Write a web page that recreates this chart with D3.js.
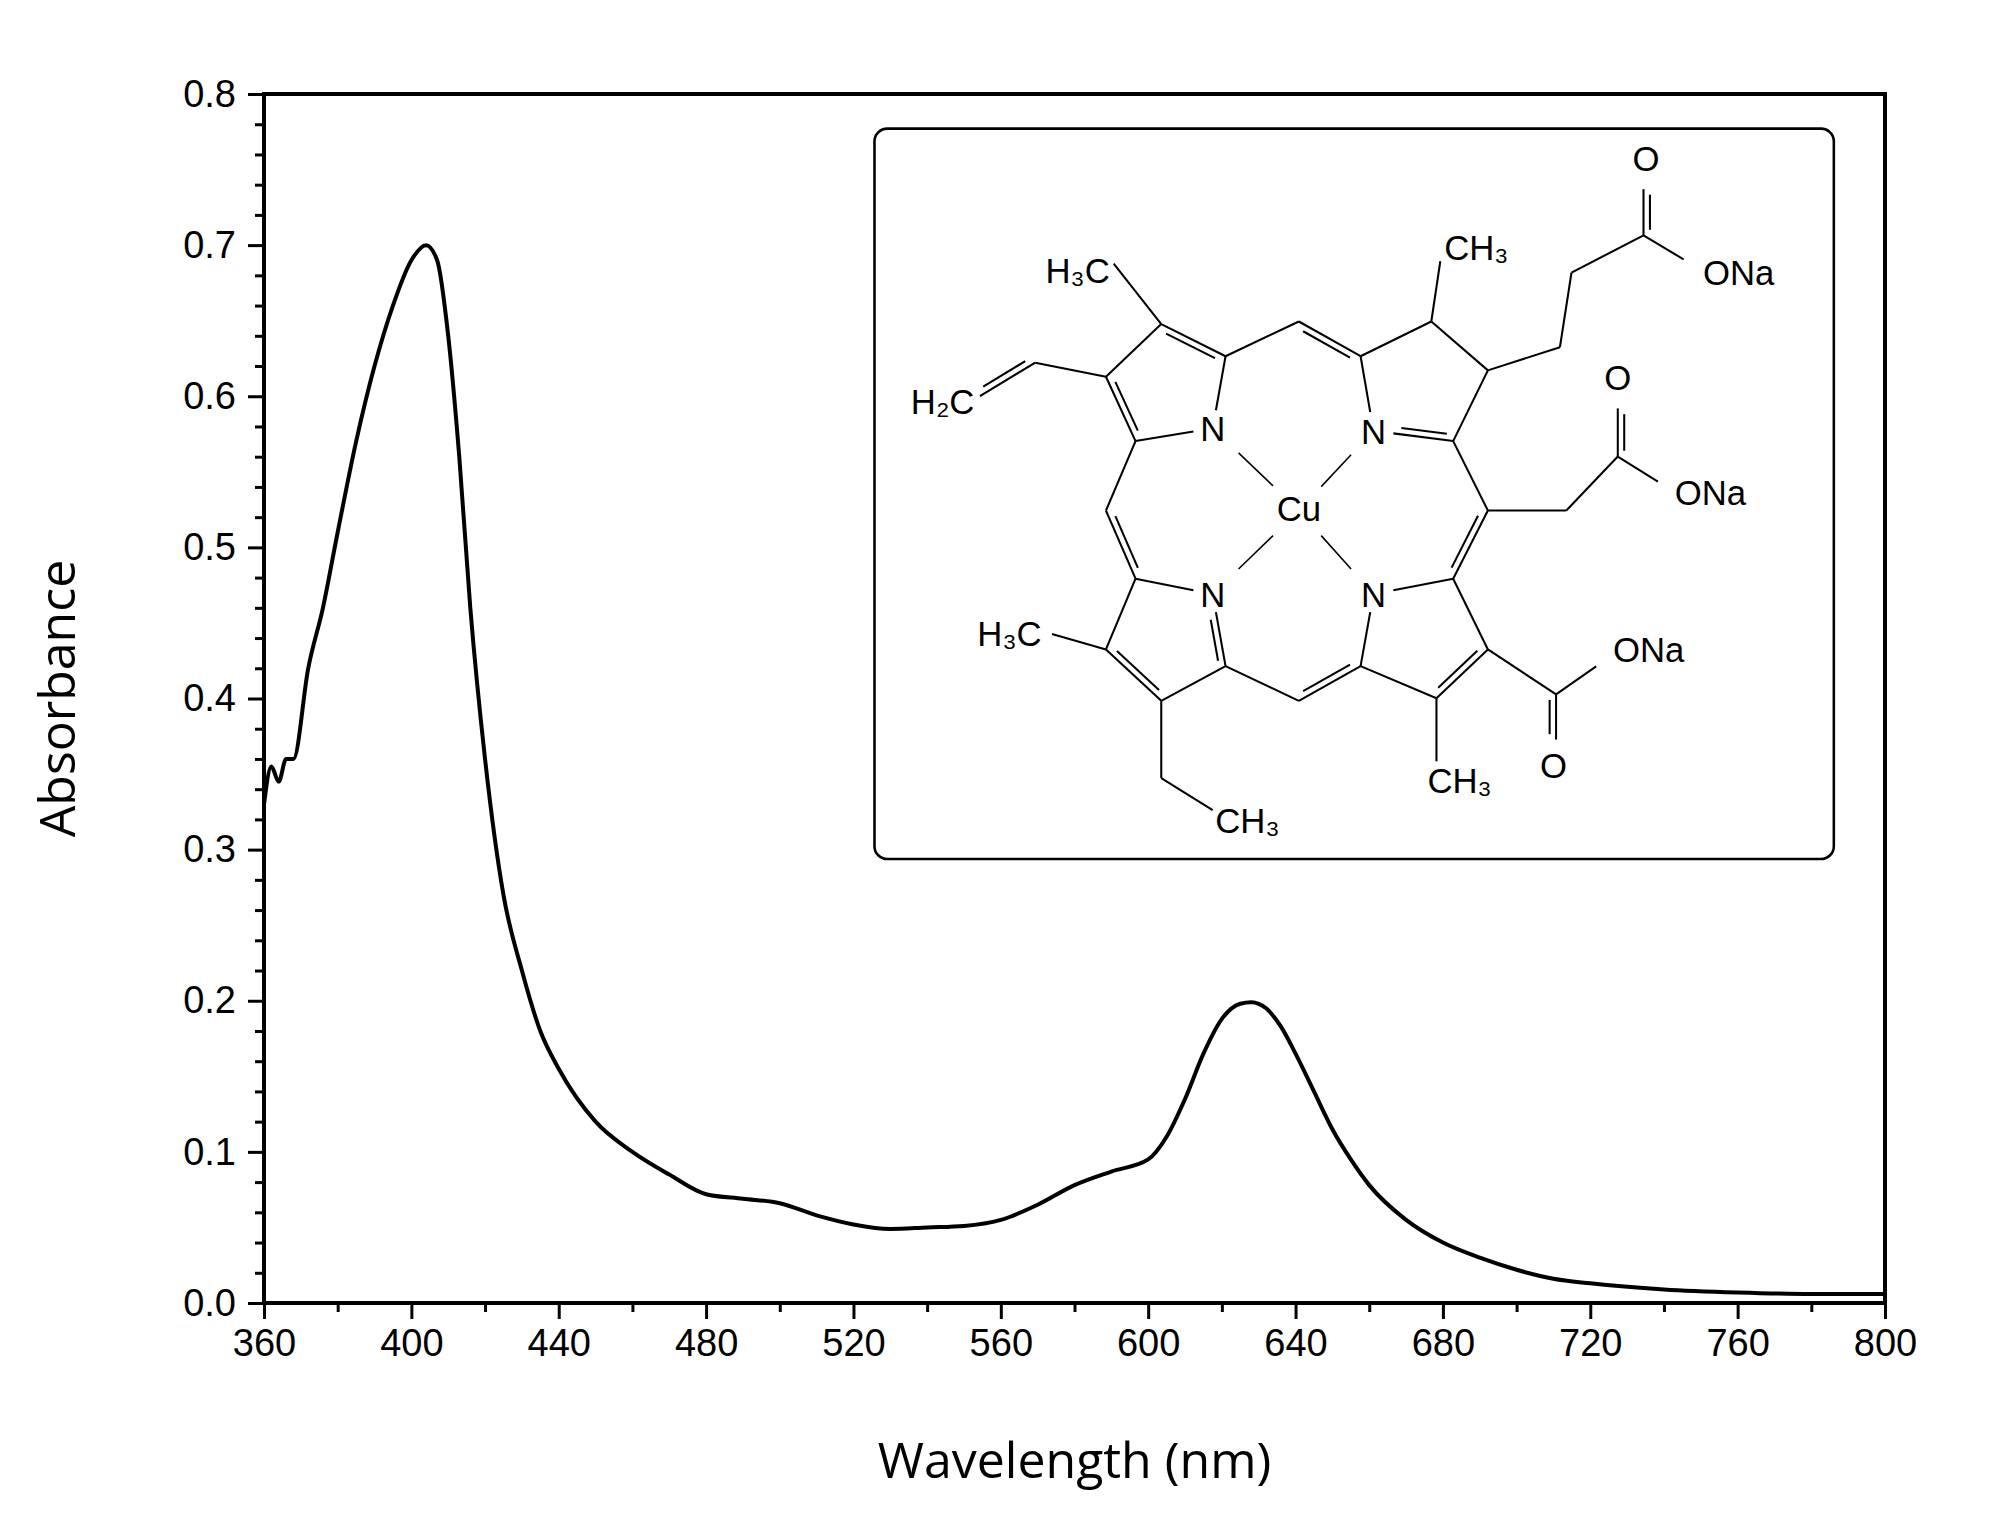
<!DOCTYPE html>
<html><head><meta charset="utf-8">
<script src="https://cdn.jsdelivr.net/npm/d3@7"></script>
<style>body{margin:0;background:#fff}</style>
</head><body>
<div id="chart"></div>
<script>
const wavelength = [360,362,364,366,368,372,376,380,385,390,395,400,404,407,410,413,416,420,425,430,435,440,450,460,470,480,490,500,510,520,530,540,550,560,570,580,590,600,605,610,615,620,625,628,632,636,640,645,650,655,660,670,680,690,700,710,720,740,760,780,800];
const absorbance = [0.33,0.355,0.345,0.36,0.36,0.42,0.46,0.51,0.57,0.62,0.66,0.69,0.70,0.69,0.64,0.56,0.46,0.36,0.27,0.22,0.18,0.155,0.12,0.10,0.085,0.072,0.069,0.066,0.058,0.052,0.049,0.050,0.051,0.055,0.065,0.078,0.087,0.095,0.11,0.135,0.165,0.188,0.198,0.199,0.195,0.183,0.165,0.14,0.115,0.095,0.078,0.055,0.040,0.030,0.022,0.016,0.013,0.009,0.007,0.006,0.006];
const xTicks = d3.range(360, 801, 40);
const yTicks = d3.range(0, 0.81, 0.1);

const width = 2015, height = 1525;
const margin = {top: 94, right: 130, bottom: 222, left: 264};
const iw = width - margin.left - margin.right, ih = height - margin.top - margin.bottom;

const svg = d3.select("#chart").append("svg").attr("width", width).attr("height", height)
  .style("font-family", "'Liberation Sans', Arial, sans-serif");
const g = svg.append("g").attr("transform", `translate(${margin.left},${margin.top})`);

const x = d3.scaleLinear().domain([360, 800]).range([0, iw]);
const y = d3.scaleLinear().domain([0, 0.8]).range([ih, 0]);

// minor ticks
g.append("g").attr("transform", `translate(0,${ih})`)
  .call(d3.axisBottom(x).tickValues(d3.range(380, 800, 40)).tickSize(9).tickFormat(""))
  .call(a => a.select(".domain").remove()).selectAll("line").attr("stroke-width", 3);
g.append("g")
  .call(d3.axisLeft(y).tickValues(d3.range(0.02, 0.8, 0.02).filter(v => Math.abs(v * 10 - Math.round(v * 10)) > 0.01)).tickSize(9).tickFormat(""))
  .call(a => a.select(".domain").remove()).selectAll("line").attr("stroke-width", 3);

const xa = g.append("g").attr("transform", `translate(0,${ih})`)
  .call(d3.axisBottom(x).tickValues(xTicks).tickSize(16).tickPadding(10).tickFormat(d3.format("d")));
xa.selectAll("text").style("font-size", "38px").attr("fill", "#000");
xa.selectAll("line").attr("stroke-width", 3);
xa.select(".domain").remove();

const ya = g.append("g")
  .call(d3.axisLeft(y).tickValues(yTicks).tickSize(16).tickPadding(12).tickFormat(d3.format(".1f")));
ya.selectAll("text").style("font-size", "38px").attr("fill", "#000");
ya.selectAll("line").attr("stroke-width", 3);
ya.select(".domain").remove();

g.append("rect").attr("width", iw).attr("height", ih).attr("fill", "none").attr("stroke", "#000").attr("stroke-width", 4);

g.append("path").datum(wavelength.map((w, i) => [w, absorbance[i]]))
  .attr("fill", "none").attr("stroke", "#000").attr("stroke-width", 4).attr("stroke-linejoin", "round")
  .attr("d", d3.line().x(d => x(d[0])).y(d => y(d[1])).curve(d3.curveMonotoneX));

svg.append("text").attr("x", margin.left + iw / 2).attr("y", 1478).attr("text-anchor", "middle")
  .style("font-family", "'Open Sans', sans-serif").style("font-size", "50px").text("Wavelength (nm)");
svg.append("text").attr("transform", `translate(75,${margin.top + ih / 2}) rotate(-90)`).attr("text-anchor", "middle")
  .style("font-family", "'Open Sans', sans-serif").style("font-size", "50px").text("Absorbance");

// inset: structure drawing
const s = 1.286;
const inset = svg.append("g").attr("transform", `scale(${s})`);
inset.append("rect").attr("x", 680).attr("y", 100).attr("width", 746).attr("height", 568).attr("rx", 10)
  .attr("fill", "#fff").attr("stroke", "#000").attr("stroke-width", 2);
const P = {
  Ca1:[883,343],Cb1:[860,293],Cb2:[903,252],Ca2:[953,277],N1:[943,333],
  mT:[1010,250],
  Ca3:[1058,277],Cb3:[1113,250],Cb4:[1157,288],Ca4:[1130,343],N2:[1068,335],
  mR:[1157,397],
  Ca5:[1130,450],Cb5:[1157,505],Cb6:[1117,543],Ca6:[1058,518],N3:[1068,462],
  mB:[1010,545],
  Ca7:[953,518],Cb7:[903,545],Cb8:[860,505],Ca8:[883,450],N4:[943,462],
  mL:[860,397],
  Me1:[866,205],V1:[805,282],V2:[762,308],Me2:[1120,203],
  P1:[1213,270],P2:[1222,212],P3:[1278,183],O1:[1278,137],O2:[1318,207],
  A1:[1218,397],A2:[1258,355],O3:[1258,307],O4:[1298,380],
  K1:[1210,540],O5:[1250,512],O6:[1210,585],Me3:[1117,592],
  E1:[903,605],E2:[943,630],Me4:[818,493]
};
const bonds = [
  ["Ca1","Cb1",1],["Cb1","Cb2",0],["Cb2","Ca2",1],["Ca2","N1",0],["N1","Ca1",0],
  ["Ca2","mT",0],["mT","Ca3",1],
  ["Ca3","Cb3",0],["Cb3","Cb4",0],["Cb4","Ca4",0],["Ca4","N2",1],["N2","Ca3",0],
  ["Ca4","mR",0],["mR","Ca5",1],
  ["Ca5","Cb5",0],["Cb5","Cb6",1],["Cb6","Ca6",0],["Ca6","N3",0],["N3","Ca5",0],
  ["Ca6","mB",1],["mB","Ca7",0],
  ["Ca7","Cb7",0],["Cb7","Cb8",1],["Cb8","Ca8",0],["Ca8","N4",0],["N4","Ca7",1],
  ["Ca8","mL",1],["mL","Ca1",0],
  ["Cb2","Me1",0],["Cb1","V1",0],["V1","V2",1],["Cb3","Me2",0],
  ["Cb4","P1",0],["P1","P2",0],["P2","P3",0],["P3","O1",1],["P3","O2",0],
  ["mR","A1",0],["A1","A2",0],["A2","O3",1],["A2","O4",0],
  ["Cb5","K1",0],["K1","O5",0],["K1","O6",1],["Cb6","Me3",0],
  ["Cb7","E1",0],["E1","E2",0],["Cb8","Me4",0]
];
const shorten = (a, b, k) => [a[0] + (b[0] - a[0]) * k, a[1] + (b[1] - a[1]) * k];
bonds.forEach(([a, b, dbl]) => {
  let p = P[a], q = P[b];
  if (a.startsWith("N")) p = shorten(p, q, 0.25);
  if (b.startsWith("N")) q = shorten(q, p, 0.25);
  if (b.startsWith("O")) q = shorten(q, p, 0.22);
  inset.append("line").attr("x1", p[0]).attr("y1", p[1]).attr("x2", q[0]).attr("y2", q[1])
    .attr("stroke", "#000").attr("stroke-width", 1.6);
  if (dbl) {
    const dx = q[0] - p[0], dy = q[1] - p[1], L = Math.hypot(dx, dy);
    const ox = -dy / L * 5, oy = dx / L * 5;
    const a2 = shorten(p, q, 0.12), b2 = shorten(q, p, 0.12);
    inset.append("line").attr("x1", a2[0] + ox).attr("y1", a2[1] + oy).attr("x2", b2[0] + ox).attr("y2", b2[1] + oy)
      .attr("stroke", "#000").attr("stroke-width", 1.6);
  }
});
["N1","N2","N3","N4"].forEach(n => {
  const p = shorten(P[n], [1010, 397], 0.3), q = shorten([1010, 397], P[n], 0.3);
  inset.append("line").attr("x1", p[0]).attr("y1", p[1]).attr("x2", q[0]).attr("y2", q[1])
    .attr("stroke", "#000").attr("stroke-width", 1.2);
});
const labels = [
  ["N",943,343],["N",1068,345],["N",1068,472],["N",943,472],["Cu",1010,405],
  ["H₃C",838,220],["H₂C",733,322],["CH₃",1148,202],["O",1280,133],["ONa",1352,222],
  ["O",1258,303],["ONa",1330,393],["ONa",1282,515],["O",1208,605],["CH₃",1135,617],["CH₃",970,648],["H₃C",785,502]
];
labels.forEach(([t, lx, ly]) => {
  inset.append("text").attr("x", lx).attr("y", ly).attr("text-anchor", "middle")
    .style("font-size", "27px").attr("fill", "#000")
    .attr("stroke", "#fff").attr("stroke-width", 6).attr("paint-order", "stroke").text(t);
});
</script>
</body></html>
